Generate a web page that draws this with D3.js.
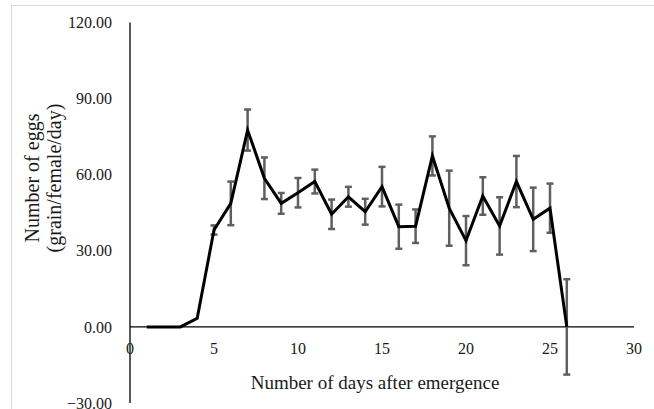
<!DOCTYPE html>
<html>
<head>
<meta charset="utf-8">
<script src="https://cdn.jsdelivr.net/npm/d3@7"></script>
<style>
  html, body { margin: 0; padding: 0; background: #fff; }
  svg { display: block; }
  text { font-family: "Liberation Serif", "Times New Roman", serif; }
</style>
</head>
<body>
<svg id="chart" width="654" height="409"></svg>
<script>
const days = [1,2,3,4,5,6,7,8,9,10,11,12,13,14,15,16,17,18,19,20,21,22,23,24,25,26];
const eggs = [0,0,0,3.4,38.2,48.7,77.6,58.6,48.7,52.9,57.3,44.4,51.3,45.4,55.3,39.5,39.7,67.4,46.8,34.0,51.6,39.8,57.3,42.4,46.8,0];
const errs = [0,0,0,0,1.8,8.6,8.1,8.2,4.1,5.8,4.7,5.8,3.9,5.1,7.8,8.7,6.6,7.7,14.8,9.7,7.4,11.3,10.1,12.5,9.7,18.8];
const xTicks = [0,5,10,15,20,25,30];
const yTicks = [120,90,60,30,0,-30];
const xTitle = "Number of days after emergence";
const yTitle = ["Number of eggs", "(grain/female/day)"];

const svg = d3.select("#chart");
const x = d3.scaleLinear().domain([0,30]).range([130,634]);
const y = d3.scaleLinear().domain([-30,120]).range([403,22.5]);

// outer chart border
svg.append("rect").attr("x",11.5).attr("y",5.5).attr("width",700).attr("height",500)
  .attr("fill","none").attr("stroke","#d9d9d9").attr("stroke-width",1);

// axes lines
svg.append("line").attr("x1",x(0)).attr("x2",x(0)).attr("y1",y(120)).attr("y2",y(-30))
  .attr("stroke","#000").attr("stroke-width",1.3);
svg.append("line").attr("x1",x(0)).attr("x2",x(30)).attr("y1",y(0)).attr("y2",y(0))
  .attr("stroke","#000").attr("stroke-width",1.3);

// y tick labels
svg.append("g").selectAll("text").data(yTicks).join("text")
  .attr("x",112).attr("y",d=>y(d)).attr("dy","0.35em")
  .attr("text-anchor","end").attr("font-size",16).attr("fill","#1a1a1a")
  .text(d=>d3.format(".2f")(d));

// x tick labels
svg.append("g").selectAll("text").data(xTicks).join("text")
  .attr("x",d=>x(d)).attr("y",348).attr("dy","0.35em")
  .attr("text-anchor","middle").attr("font-size",16).attr("fill","#1a1a1a")
  .text(d=>d);

// error bars
const eb = svg.append("g").attr("stroke","#5f5f5f").attr("stroke-width",2.5);
days.forEach((d,i)=>{
  if (errs[i] <= 0) return;
  const cx = x(d), t = y(eggs[i]+errs[i]), b = y(eggs[i]-errs[i]);
  eb.append("line").attr("x1",cx).attr("x2",cx).attr("y1",t).attr("y2",b);
  eb.append("line").attr("x1",cx-3.5).attr("x2",cx+3.5).attr("y1",t).attr("y2",t);
  eb.append("line").attr("x1",cx-3.5).attr("x2",cx+3.5).attr("y1",b).attr("y2",b);
});

// data line
const line = d3.line().x((d,i)=>x(days[i])).y(d=>y(d));
svg.append("path").datum(eggs).attr("d",line).attr("fill","none")
  .attr("stroke","#000").attr("stroke-width",3).attr("stroke-linejoin","miter");

// axis titles
svg.append("text").attr("x",375).attr("y",389).attr("text-anchor","middle")
  .attr("font-size",19).attr("fill","#1a1a1a").text(xTitle);

const yt = svg.append("text").attr("transform","translate(0,178) rotate(-90)")
  .attr("text-anchor","middle").attr("font-size",20).attr("fill","#1a1a1a");
yt.append("tspan").attr("x",0).attr("y",39).text(yTitle[0]);
yt.append("tspan").attr("x",0).attr("y",61).text(yTitle[1]);
</script>
</body>
</html>
